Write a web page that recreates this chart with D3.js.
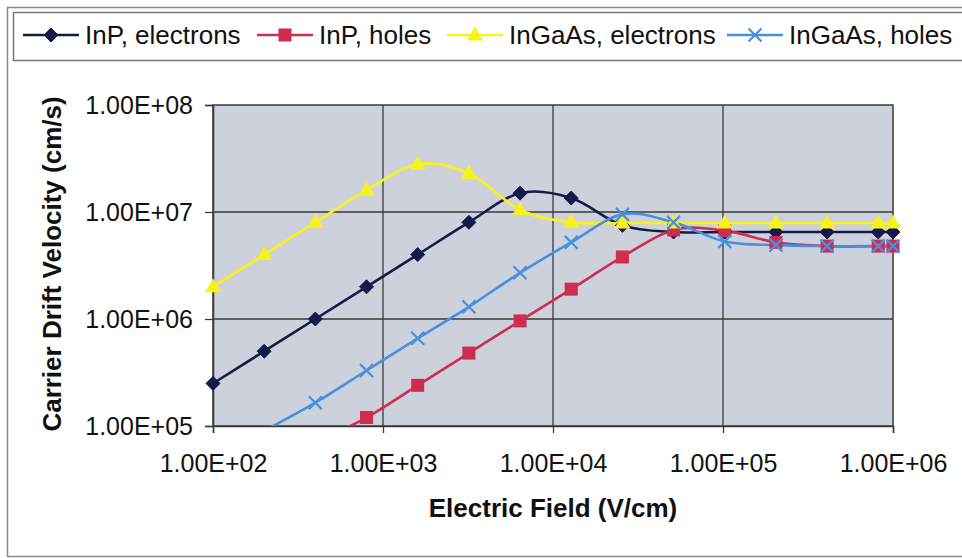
<!DOCTYPE html>
<html>
<head>
<meta charset="utf-8">
<script src="https://cdn.jsdelivr.net/npm/d3@7"></script>
<style>
  body { margin: 0; background: #fff; }
  svg { font-family: "Liberation Sans", Arial, sans-serif; }
</style>
</head>
<body>
<div id="chart"></div>
<script>
// electric field (V/cm)
const fields = [100, 200, 400, 800, 1600, 3200, 6400, 12800, 25600, 51200, 102400, 204800, 409600, 819200, 1000000];
// carrier drift velocity (cm/s)
const inpElectrons = [2.5e5, 5e5, 1e6, 2e6, 4e6, 8e6, 1.5e7, 1.35e7, 7.5e6, 6.5e6, 6.5e6, 6.5e6, 6.5e6, 6.5e6, 6.5e6];
const inpHoles = [2e4, 4e4, 7e4, 1.2e5, 2.4e5, 4.8e5, 9.6e5, 1.9e6, 3.8e6, 6.8e6, 6.7e6, 5.2e6, 4.8e6, 4.8e6, 4.8e6];
const ingaasElectrons = [2e6, 4e6, 8e6, 1.6e7, 2.8e7, 2.3e7, 1.05e7, 8e6, 7.9e6, 7.9e6, 7.9e6, 7.9e6, 7.9e6, 7.9e6, 7.9e6];
const ingaasHoles = [5e4, 9e4, 1.65e5, 3.3e5, 6.6e5, 1.3e6, 2.7e6, 5.2e6, 9.5e6, 8e6, 5.3e6, 4.9e6, 4.8e6, 4.8e6, 4.8e6];

const seriesNames = ["InP, electrons", "InP, holes", "InGaAs, electrons", "InGaAs, holes"];
const xTicks = [1e2, 1e3, 1e4, 1e5, 1e6];
const yTicks = [1e5, 1e6, 1e7, 1e8];

const series = [
    {name: seriesNames[0], values: inpElectrons, color: "#151a4a", marker: "diamond"},
    {name: seriesNames[1], values: inpHoles, color: "#cf2d4d", marker: "square"},
    {name: seriesNames[2], values: ingaasElectrons, color: "#f7f21a", marker: "triangle"},
    {name: seriesNames[3], values: ingaasHoles, color: "#4790e0", marker: "cross"}
];

const W = 962, H = 558;
const plot = {left: 213, right: 893, top: 105, bottom: 426};

const svg = d3.select("#chart").append("svg")
    .attr("width", W)
    .attr("height", H);

// outer chart border
svg.append("rect")
    .attr("x", 7.5).attr("y", 7.5)
    .attr("width", W + 10).attr("height", H - 9)
    .attr("fill", "#fff")
    .attr("stroke", "#8a8a8a")
    .attr("stroke-width", 1.5);

const x = d3.scaleLog().domain([1e2, 1e6]).range([plot.left, plot.right]);
const y = d3.scaleLog().domain([1e5, 1e8]).range([plot.bottom, plot.top]);

const fmt = d => {
    const e = Math.round(Math.log10(d));
    return "1.00E+" + String(e).padStart(2, "0");
};

// plot area
svg.append("rect")
    .attr("x", plot.left).attr("y", plot.top)
    .attr("width", plot.right - plot.left)
    .attr("height", plot.bottom - plot.top)
    .attr("fill", "#cdd1dc");

// grid lines
svg.append("g").selectAll("line")
    .data(xTicks.slice(1, -1))
    .enter().append("line")
    .attr("x1", d => x(d)).attr("x2", d => x(d))
    .attr("y1", plot.top).attr("y2", plot.bottom)
    .attr("stroke", "#3a3a3a").attr("stroke-width", 1.3);
svg.append("g").selectAll("line")
    .data(yTicks.slice(1, -1))
    .enter().append("line")
    .attr("x1", plot.left).attr("x2", plot.right)
    .attr("y1", d => y(d)).attr("y2", d => y(d))
    .attr("stroke", "#3a3a3a").attr("stroke-width", 1.3);

svg.append("rect")
    .attr("x", plot.left).attr("y", plot.top)
    .attr("width", plot.right - plot.left)
    .attr("height", plot.bottom - plot.top)
    .attr("fill", "none")
    .attr("stroke", "#3a3a3a").attr("stroke-width", 1.5);

// axes
const yAxis = svg.append("g")
    .attr("transform", `translate(${plot.left},0)`)
    .call(d3.axisLeft(y).tickValues(yTicks).tickFormat(fmt).tickSize(8).tickPadding(12));
const xAxis = svg.append("g")
    .attr("transform", `translate(0,${plot.bottom})`)
    .call(d3.axisBottom(x).tickValues(xTicks).tickFormat(fmt).tickSize(7).tickPadding(21));
[xAxis, yAxis].forEach(g => {
    g.select(".domain").attr("stroke", "#3a3a3a").attr("stroke-width", 1.5);
    g.selectAll(".tick line").attr("stroke", "#3a3a3a").attr("stroke-width", 1.3);
    g.selectAll("text")
        .attr("font-family", "Liberation Sans, Arial, sans-serif")
        .attr("font-size", 25)
        .attr("fill", "#111");
});

// clip for lines
svg.append("clipPath").attr("id", "plotClip")
    .append("rect")
    .attr("x", plot.left).attr("y", plot.top)
    .attr("width", plot.right - plot.left)
    .attr("height", plot.bottom - plot.top);

const line = d3.line()
    .x(d => x(d[0]))
    .y(d => y(d[1]))
    .curve(d3.curveCardinal.tension(0));

function drawMarker(g, type, color, cx, cy) {
    if (type === "diamond") {
        g.append("path")
            .attr("d", `M${cx},${cy - 7}L${cx + 7},${cy}L${cx},${cy + 7}L${cx - 7},${cy}Z`)
            .attr("fill", color).attr("stroke", color);
    } else if (type === "square") {
        g.append("rect")
            .attr("x", cx - 6.5).attr("y", cy - 6.5)
            .attr("width", 13).attr("height", 13)
            .attr("fill", color);
    } else if (type === "triangle") {
        g.append("path")
            .attr("d", `M${cx},${cy - 8.5}L${cx + 8},${cy + 5.5}L${cx - 8},${cy + 5.5}Z`)
            .attr("fill", color);
    } else {
        g.append("path")
            .attr("d", `M${cx - 6.5},${cy - 6.5}L${cx + 6.5},${cy + 6.5}M${cx + 6.5},${cy - 6.5}L${cx - 6.5},${cy + 6.5}`)
            .attr("stroke", color).attr("stroke-width", 2.2);
    }
}

series.forEach(s => {
    const pts = fields.map((f, i) => [f, s.values[i]]);
    svg.append("path")
        .datum(pts)
        .attr("clip-path", "url(#plotClip)")
        .attr("fill", "none")
        .attr("stroke", s.color)
        .attr("stroke-width", 2.6)
        .attr("d", line);
});

series.forEach(s => {
    const g = svg.append("g");
    fields.forEach((f, i) => {
        const v = s.values[i];
        if (v < 1e5 || v > 1e8) return;
        drawMarker(g, s.marker, s.color, x(f), y(v));
    });
});

// axis titles
svg.append("text")
    .attr("x", (plot.left + plot.right) / 2)
    .attr("y", 517)
    .attr("text-anchor", "middle")
    .attr("font-size", 26).attr("font-weight", "bold")
    .attr("fill", "#111")
    .text("Electric Field (V/cm)");
svg.append("text")
    .attr("transform", "translate(61,264) rotate(-90)")
    .attr("text-anchor", "middle")
    .attr("font-size", 26).attr("font-weight", "bold")
    .attr("fill", "#111")
    .text("Carrier Drift Velocity (cm/s)");

// legend
svg.append("rect")
    .attr("x", 13.5).attr("y", 12.5)
    .attr("width", W).attr("height", 48)
    .attr("fill", "#fff")
    .attr("stroke", "#777").attr("stroke-width", 1.5);

const legendX = [23, 257, 447, 727];
series.forEach((s, i) => {
    const lx = legendX[i], ly = 35;
    const g = svg.append("g");
    g.append("line")
        .attr("x1", lx).attr("x2", lx + 56)
        .attr("y1", ly).attr("y2", ly)
        .attr("stroke", s.color).attr("stroke-width", 2.6);
    drawMarker(g, s.marker, s.color, lx + 28, ly);
    g.append("text")
        .attr("x", lx + 62).attr("y", ly + 9)
        .attr("font-size", 26)
        .attr("fill", "#111")
        .text(s.name);
});
</script>
</body>
</html>
